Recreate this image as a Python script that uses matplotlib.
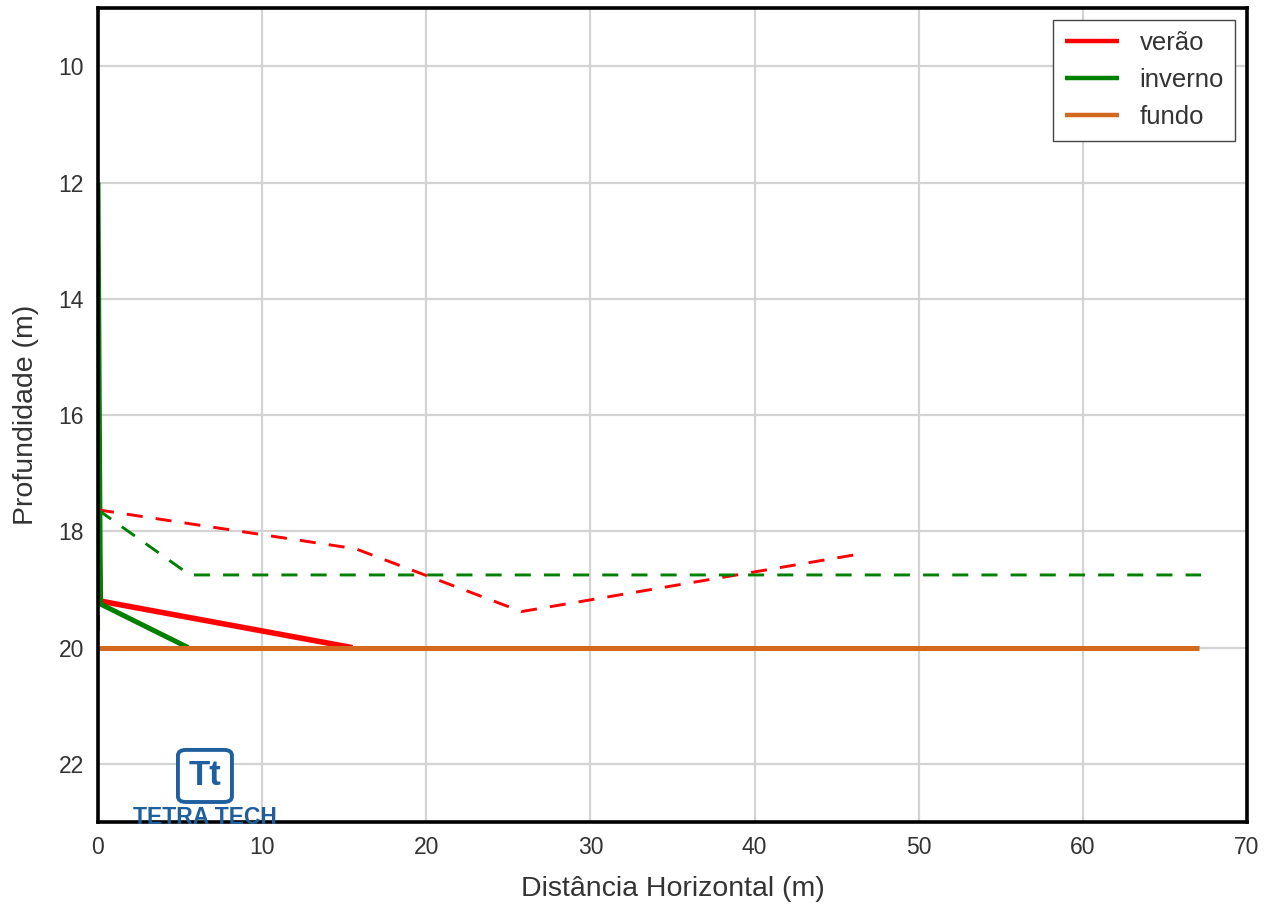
import numpy as np
import matplotlib
matplotlib.use("Agg")
import matplotlib.pyplot as plt
from matplotlib.patches import FancyBboxPatch

plt.rcParams['font.family'] = ['Liberation Sans', 'DejaVu Sans']

# linha central (sólida) e limite da pluma (tracejada)
verao_x = [0.0, 0.15, 15.5]
verao_y = [17.6, 19.2, 20.0]
inverno_x = [0.0, 0.15, 5.5]
inverno_y = [12.0, 19.25, 20.0]
fundo_x = [0.0, 67.1]
fundo_y = [20.0, 20.0]

verao_lim_x = [0.0, 15.7, 25.8, 46.6]
verao_lim_y = [17.63, 18.3, 19.38, 18.38]
inverno_lim_x = [0.0, 5.6, 67.2]
inverno_lim_y = [17.63, 18.75, 18.75]

difusor_x = [0.05, 0.05]
difusor_y = [19.45, 19.7]

fig = plt.figure(figsize=(12.79, 9.07), dpi=100)
ax = fig.add_axes([0.0766, 0.0937, 0.8984, 0.8973])

ax.plot(verao_x, verao_y, color='red', lw=4, label='verão', solid_capstyle='butt')
ax.plot(inverno_x, inverno_y, color='green', lw=3.6, label='inverno', solid_capstyle='butt')
ax.plot(fundo_x, fundo_y, color='#d2691e', lw=3.6, label='fundo', solid_capstyle='butt')
ax.plot(verao_lim_x, verao_lim_y, color='red', lw=2.1, ls=(0, (5.5, 4.5)))
ax.plot(inverno_lim_x, inverno_lim_y, color='green', lw=2.1, ls=(0, (5.5, 4.5)))
ax.plot(difusor_x, difusor_y, color='#6b6b00', lw=1.5)

ax.set_xlim(0, 70)
ax.set_ylim(23, 9)
ax.set_xticks(np.arange(0, 71, 10))
ax.set_yticks(np.arange(10, 23, 2))
ax.grid(True, color='#d3d3d3', lw=1.6)
ax.set_axisbelow(True)
for s in ax.spines.values():
    s.set_color('black')
    s.set_linewidth(2.6)
ax.tick_params(length=0, labelsize=16.5, labelcolor='#333333', pad=10)
ax.set_xlabel('Distância Horizontal (m)', fontsize=20.5, color='#333333', labelpad=12)
ax.set_ylabel('Profundidade (m)', fontsize=20.5, color='#333333', labelpad=14)

leg = ax.legend(loc='upper right', fontsize=18.5, fancybox=False, framealpha=1,
                edgecolor='#444444', handlelength=2.1, handletextpad=0.8,
                borderpad=0.45, labelspacing=0.5, borderaxespad=0.45,
                labelcolor='#333333')
leg.get_frame().set_linewidth(1.0)
for h in leg.get_lines():
    h.set_linewidth(3.2)

# logo Tetra Tech
blue = '#1f5f9e'
box = FancyBboxPatch((0.0696, 0.0246), 0.047, 0.064, boxstyle='round,pad=0,rounding_size=0.007',
                     transform=ax.transAxes, fc='white', ec=blue, lw=2.8, zorder=5)
ax.add_patch(box)
ax.text(0.0931, 0.057, 'Tt', transform=ax.transAxes, ha='center', va='center',
        fontsize=25, fontweight='bold', color=blue, zorder=6)
ax.text(0.0931, 0.005, 'TETRA TECH', transform=ax.transAxes, ha='center', va='center',
        fontsize=16.5, fontweight='bold', color=blue, zorder=6, clip_on=False)

fig.savefig('out.png', dpi=100)
